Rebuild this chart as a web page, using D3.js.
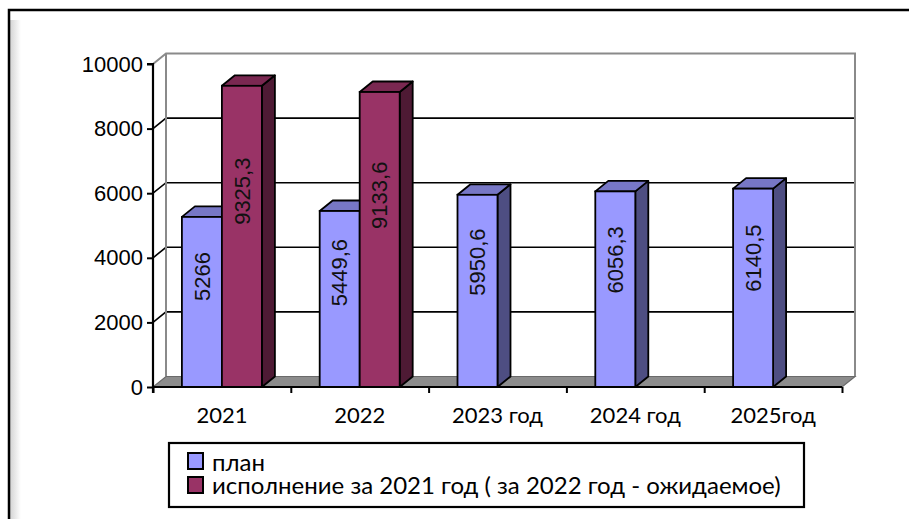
<!DOCTYPE html>
<html>
<head>
<meta charset="utf-8">
<script src="https://cdn.jsdelivr.net/npm/d3@7"></script>
<style>
  body { margin: 0; background: #fff; }
  svg { display: block; }
</style>
</head>
<body>
<script>
var categories = ["2021", "2022", "2023 год", "2024 год", "2025год"],
	plan = [5266, 5449.6, 5950.6, 6056.3, 6140.5],
	actual = [9325.3, 9133.6, null, null, null],
	yTicks = [0, 2000, 4000, 6000, 8000, 10000],
	seriesNames = ["план", "исполнение за 2021 год ( за 2022 год - ожидаемое)"];

var width = 909, height = 519;
// depth of the 3d box
var dx = 13, dy = -10.5;

var colors = [
	{front: "#9999ff", top: "#7777c6", side: "#4e4e82"},
	{front: "#993366", top: "#7a2851", side: "#4e1a34"}
];

var numFont = "'Liberation Sans', Arial, sans-serif",
	txtFont = "Lato, 'Open Sans', sans-serif";

var svg = d3.select("body").append("svg")
	.attr("width", width)
	.attr("height", height);

var defs = svg.append("defs");
var grad = defs.append("linearGradient").attr("id", "shade")
	.attr("x1", 0).attr("x2", 1).attr("y1", 0).attr("y2", 0);
grad.append("stop").attr("offset", 0).attr("stop-color", "#d4d4d4");
grad.append("stop").attr("offset", 1).attr("stop-color", "#ffffff");

// outer frame
svg.append("rect")
	.attr("x", 10).attr("y", 20).attr("width", 11).attr("height", height)
	.attr("fill", "url(#shade)");
svg.append("path")
	.attr("d", "M9," + height + "V10H" + width)
	.attr("fill", "none").attr("stroke", "#000").attr("stroke-width", 2.5);

// scales
var x = d3.scaleBand()
	.domain(categories)
	.range([153, 842]);

var xs = d3.scaleBand()
	.domain([0, 1])
	.range([x.bandwidth() / 2 - 40, x.bandwidth() / 2 + 40]);

var y = d3.scaleLinear()
	.domain([0, 10000])
	.range([387, 64]);

var x0 = x.range()[0], x1 = x.range()[1];

// walls
var walls = svg.append("g").attr("class", "walls");

walls.append("path")
	.attr("d", "M" + x0 + "," + y(0) + "L" + x0 + "," + y(10000) + "L" + (x0 + dx) + "," + (y(10000) + dy) +
		"L" + (x1 + dx) + "," + (y(10000) + dy) + "L" + (x1 + dx) + "," + (y(0) + dy) + "Z")
	.attr("fill", "#fff");

// gridlines on back wall and side wall
walls.selectAll("line.grid")
	.data(yTicks.filter(function(t) { return t > 0 && t < 10000; }))
	.enter().append("path")
	.attr("class", "grid")
	.attr("d", function(t) {
		return "M" + x0 + "," + y(t) + "L" + (x0 + dx) + "," + (y(t) + dy) + "H" + (x1 + dx);
	})
	.attr("fill", "none").attr("stroke", "#000").attr("stroke-width", 1.6);

// wall outline
walls.append("path")
	.attr("d", "M" + x0 + "," + y(10000) + "L" + (x0 + dx) + "," + (y(10000) + dy) + "H" + (x1 + dx) + "V" + (y(0) + dy) +
		"M" + (x0 + dx) + "," + (y(10000) + dy) + "V" + (y(0) + dy))
	.attr("fill", "none").attr("stroke", "#8a8a8a").attr("stroke-width", 2);

// floor
walls.append("path")
	.attr("d", "M" + x0 + "," + y(0) + "L" + (x0 + dx) + "," + (y(0) + dy) + "H" + (x1 + dx) + "L" + x1 + "," + y(0) + "Z")
	.attr("fill", "#8c8c8c").attr("stroke", "#6a6a6a").attr("stroke-width", 1.2);

// bars
var bars = [];
categories.forEach(function(c, i) {
	[plan[i], actual[i]].forEach(function(v, s) {
		if (v != null) bars.push({cat: c, s: s, v: v});
	});
});

var barG = svg.append("g").attr("class", "bars")
	.selectAll("g")
	.data(bars)
	.enter().append("g");

var bw = xs.bandwidth();

function bx(d) { return x(d.cat) + xs(d.s); }

barG.append("path") // side
	.attr("d", function(d) {
		var l = bx(d) + bw, t = y(d.v), b = y(0);
		return "M" + l + "," + b + "L" + (l + dx) + "," + (b + dy) + "L" + (l + dx) + "," + (t + dy) + "L" + l + "," + t + "Z";
	})
	.attr("fill", function(d) { return colors[d.s].side; })
	.attr("stroke", "#000").attr("stroke-width", 1.8).attr("stroke-linejoin", "round");

barG.append("path") // top
	.attr("d", function(d) {
		var l = bx(d), t = y(d.v);
		return "M" + l + "," + t + "L" + (l + dx) + "," + (t + dy) + "L" + (l + bw + dx) + "," + (t + dy) + "L" + (l + bw) + "," + t + "Z";
	})
	.attr("fill", function(d) { return colors[d.s].top; })
	.attr("stroke", "#000").attr("stroke-width", 1.8).attr("stroke-linejoin", "round");

barG.append("rect") // front
	.attr("x", bx)
	.attr("y", function(d) { return y(d.v); })
	.attr("width", bw)
	.attr("height", function(d) { return y(0) - y(d.v); })
	.attr("fill", function(d) { return colors[d.s].front; })
	.attr("stroke", "#000").attr("stroke-width", 1.8);

barG.append("text")
	.attr("transform", function(d) {
		return "translate(" + (bx(d) + bw / 2) + "," + y(d.v * 0.65) + ") rotate(-90)";
	})
	.attr("text-anchor", "middle")
	.attr("dy", "0.35em")
	.style("font-family", numFont)
	.style("font-size", "22px")
	.attr("fill", "#111")
	.text(function(d) { return String(d.v).replace(".", ","); });

// y axis
var yAxis = d3.axisLeft(y)
	.tickValues(yTicks)
	.tickSize(6)
	.tickPadding(4)
	.tickFormat(d3.format("d"));

var yg = svg.append("g")
	.attr("transform", "translate(" + x0 + ",0)")
	.call(yAxis);
yg.select(".domain").attr("stroke-width", 2.2).attr("d", "M-6," + y(10000) + "H0V" + (y(0) + 6));
yg.selectAll(".tick line").attr("stroke-width", 2);
yg.selectAll(".tick text")
	.style("font-family", numFont)
	.style("font-size", "22px")
	.attr("fill", "#000");

// x axis: ticks on category borders, labels in the middle
var xb = d3.scaleLinear().domain([0, categories.length]).range([x0, x1]);
var xgTicks = svg.append("g")
	.attr("transform", "translate(0," + y(0) + ")")
	.call(d3.axisBottom(xb).ticks(categories.length).tickSize(6).tickFormat(""));
xgTicks.select(".domain").attr("stroke-width", 2.2).attr("d", "M" + x0 + ",0H" + x1);
xgTicks.selectAll(".tick line").attr("stroke-width", 2);

var xg = svg.append("g")
	.attr("transform", "translate(0," + y(0) + ")")
	.call(d3.axisBottom(x).tickSize(0).tickPadding(20));
xg.select(".domain").remove();
xg.selectAll(".tick text")
	.style("font-family", txtFont)
	.style("font-size", "22px")
	.attr("fill", "#000");

// legend
var legend = svg.append("g").attr("transform", "translate(169,443)");
legend.append("rect")
	.attr("width", 635).attr("height", 64)
	.attr("fill", "#fff").attr("stroke", "#000").attr("stroke-width", 2.2);

var item = legend.selectAll("g.item")
	.data(seriesNames)
	.enter().append("g")
	.attr("class", "item")
	.attr("transform", function(d, i) { return "translate(19," + (10 + i * 24) + ")"; });

item.append("rect")
	.attr("width", 15).attr("height", 16)
	.attr("fill", function(d, i) { return colors[i].front; })
	.attr("stroke", "#000").attr("stroke-width", 2);

item.append("text")
	.attr("x", 24).attr("y", function(d, i) { return 18 - i; })
	.style("font-family", txtFont)
	.style("font-size", "24px")
	.attr("fill", "#000")
	.text(function(d) { return d; });
</script>
</body>
</html>
